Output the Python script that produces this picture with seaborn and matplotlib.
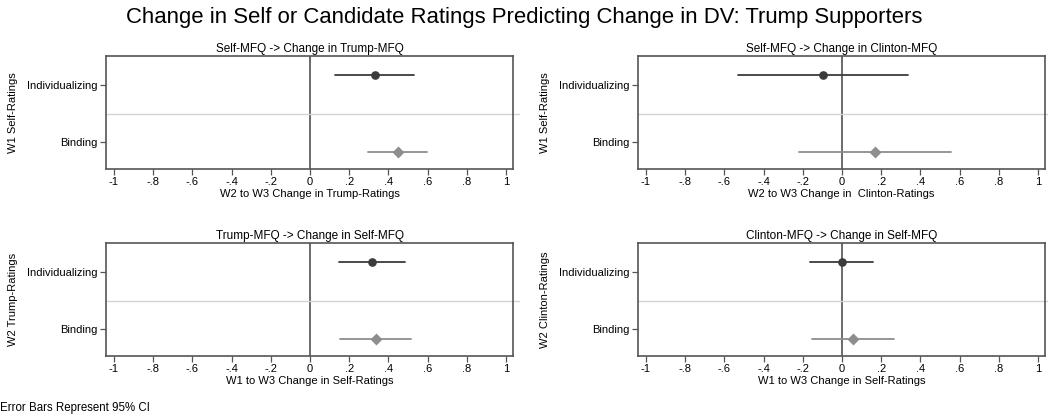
import pandas as pd
import seaborn as sns
from matplotlib import pyplot as plt

# estimates and 95% CI bounds per panel, order: Individualizing, Binding
categories = ["Individualizing", "Binding"]

tl_est = [0.33, 0.447]
tl_lo = [0.129, 0.298]
tl_hi = [0.528, 0.596]

tr_est = [-0.096, 0.166]
tr_lo = [-0.53, -0.217]
tr_hi = [0.335, 0.557]

bl_est = [0.317, 0.334]
bl_lo = [0.147, 0.151]
bl_hi = [0.486, 0.515]

br_est = [0.0, 0.056]
br_lo = [-0.161, -0.151]
br_hi = [0.157, 0.267]

titles = [
    "Self-MFQ -> Change in Trump-MFQ",
    "Self-MFQ -> Change in Clinton-MFQ",
    "Trump-MFQ -> Change in Self-MFQ",
    "Clinton-MFQ -> Change in Self-MFQ",
]
xlabels = [
    "W2 to W3 Change in Trump-Ratings",
    "W2 to W3 Change in  Clinton-Ratings",
    "W1 to W3 Change in Self-Ratings",
    "W1 to W3 Change in Self-Ratings",
]
ylabels = ["W1 Self-Ratings", "W1 Self-Ratings", "W2 Trump-Ratings", "W2 Clinton-Ratings"]
xticks = [-1, -0.8, -0.6, -0.4, -0.2, 0, 0.2, 0.4, 0.6, 0.8, 1]
xtick_labels = ["-1", "-.8", "-.6", "-.4", "-.2", "0", ".2", ".4", ".6", ".8", "1"]

panels = [
    (tl_est, tl_lo, tl_hi),
    (tr_est, tr_lo, tr_hi),
    (bl_est, bl_lo, bl_hi),
    (br_est, br_lo, br_hi),
]

sns.set_style("white")
plt.rcParams['font.family'] = ['Liberation Sans', 'DejaVu Sans']
plt.rcParams['font.size'] = 8
plt.rcParams['text.color'] = 'black'
plt.rcParams['axes.labelcolor'] = 'black'
plt.rcParams['xtick.color'] = 'black'
plt.rcParams['ytick.color'] = 'black'

fig = plt.figure(figsize=(10.48, 4.2), dpi=100)
W, H = 1048, 420
boxes = [(106, 56), (638, 56), (106, 243), (638, 243)]
bw, bh = 407, 113

spine_col = "#555555"
for i, (est, lo, hi) in enumerate(panels):
    left, top = boxes[i]
    ax = fig.add_axes([left / W, (H - top - bh) / H, bw / W, bh / H])

    # long table: lo / est / hi per category -> median = estimate, full range = CI
    rows = []
    for c, e, l, h in zip(categories, est, lo, hi):
        for v in (l, e, h):
            rows.append({"cat": c, "val": v})
    df = pd.DataFrame(rows)

    ax.axvline(0, color="#5f5f5f", lw=1.3, zorder=1)
    ax.axhline(0.5, xmin=0, xmax=1.015, color="#d4d4d4", lw=1.0, clip_on=False, zorder=1)

    sns.pointplot(
        data=df, x="val", y="cat", hue="cat",
        order=categories, hue_order=categories,
        palette=["#3c3c3c", "#8e8e8e"],
        markers=["o", "D"], linestyles="none",
        estimator="median", errorbar=("pi", 100),
        dodge=0.34, legend=False, ax=ax,
        markersize=4.2, err_kws={"linewidth": 1.3},
    )

    ax.set_xlim(-1.04, 1.035)
    ax.set_ylim(1.47, -0.51)
    ax.set_xticks(xticks)
    ax.set_xticklabels(xtick_labels)
    ax.set_title(titles[i], fontsize=8.5, pad=3)
    ax.set_xlabel(xlabels[i], fontsize=8, labelpad=1)
    ax.set_ylabel(ylabels[i], fontsize=8)
    ax.yaxis.set_label_coords(-0.215, 0.5)
    ax.tick_params(axis="both", which="both", direction="out", length=4,
                   width=0.9, color=spine_col, labelsize=8, pad=2)
    ax.tick_params(axis="x", bottom=True)
    ax.tick_params(axis="y", left=True)
    for s in ax.spines.values():
        s.set_visible(True)
        s.set_color(spine_col)
        s.set_linewidth(1.2)

fig.text(0.5, 1 - 17 / H, "Change in Self or Candidate Ratings Predicting Change in DV: Trump Supporters",
         ha="center", va="center", fontsize=15.9)
fig.text(0.0, 1 - 408 / H, "Error Bars Represent 95% CI", ha="left", va="center", fontsize=8.3)

plt.savefig("out.png", dpi=100)
